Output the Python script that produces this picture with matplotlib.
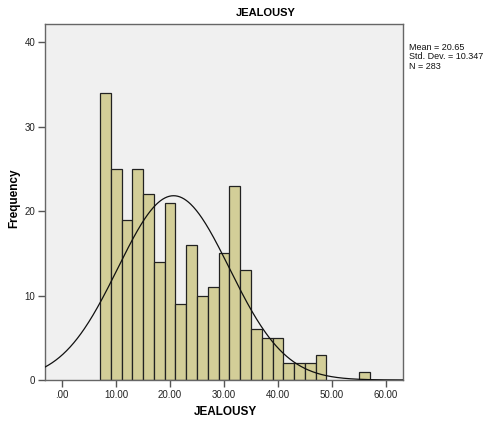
import numpy as np
import matplotlib
matplotlib.use("Agg")
import matplotlib.pyplot as plt

plt.rcParams['font.family'] = ['Liberation Sans', 'DejaVu Sans']

bin_edges = [7, 9, 11, 13, 15, 17, 19, 21, 23, 25, 27, 29, 31, 33, 35, 37, 39,
             41, 43, 45, 47, 49, 51, 53, 55, 57]
counts = [34, 25, 19, 25, 22, 14, 21, 9, 16, 10, 11, 15, 23, 13, 6, 5, 5,
          2, 2, 2, 3, 0, 0, 0, 1]
mean_val = 20.65
std_val = 10.347
n_val = 283
x_ticks = [0, 10, 20, 30, 40, 50, 60]
x_tick_labels = ['.00', '10.00', '20.00', '30.00', '40.00', '50.00', '60.00']
y_ticks = [0, 10, 20, 30, 40]

W, H = 486, 423
fig = plt.figure(figsize=(W / 100, H / 100), dpi=100)
ax_left, ax_right, ax_top, ax_bot = 45, 403, 24.5, 380
ax = fig.add_axes([ax_left / W, 1 - ax_bot / H, (ax_right - ax_left) / W, (ax_bot - ax_top) / H])
ax.set_facecolor('#f0f0f0')

edges = np.array(bin_edges, dtype=float)
cnt = np.array(counts, dtype=float)
mask = cnt > 0
ax.bar(edges[:-1][mask], cnt[mask], width=np.diff(edges)[mask], align='edge',
       color='#d3ce98', edgecolor='#222222', linewidth=0.9, zorder=2)

bw = edges[1] - edges[0]
xs = np.linspace(-3.2, 63.2, 500)
ys = n_val * bw / (std_val * np.sqrt(2 * np.pi)) * np.exp(-0.5 * ((xs - mean_val) / std_val) ** 2)
ax.plot(xs, ys, color='#111111', linewidth=0.9, zorder=3)

ax.set_xlim(-3.2, 63.2)
ax.set_ylim(0, 42.1)
ax.set_xticks(x_ticks)
ax.set_xticklabels(x_tick_labels)
ax.set_yticks(y_ticks)
ax.tick_params(axis='both', direction='out', length=5, width=1, color='#555555',
               labelsize=7, labelcolor='#222222', pad=2)
for s in ax.spines.values():
    s.set_color('#666666')
    s.set_linewidth(1)

aw = ax_right - ax_left
ah = ax_bot - ax_top
ax.set_xlabel('JEALOUSY', fontsize=8.5, fontweight='bold', va='center')
ax.xaxis.set_label_coords((225 - ax_left) / aw, (ax_bot - 412) / ah)
ax.set_ylabel('Frequency', fontsize=8.5, fontweight='bold', va='center')
ax.yaxis.set_label_coords((14 - ax_left) / aw, (ax_bot - 198) / ah)

fig.text(266 / W, 1 - 13 / H, 'JEALOUSY', fontsize=8, fontweight='bold',
         ha='center', va='center')
fig.text(409 / W, 1 - 43 / H,
         'Mean = %.2f\nStd. Dev. = %.3f\nN = %d' % (mean_val, std_val, n_val),
         fontsize=6.5, ha='left', va='top', linespacing=1.05, color='#111111')

fig.savefig('out.png', dpi=100)
